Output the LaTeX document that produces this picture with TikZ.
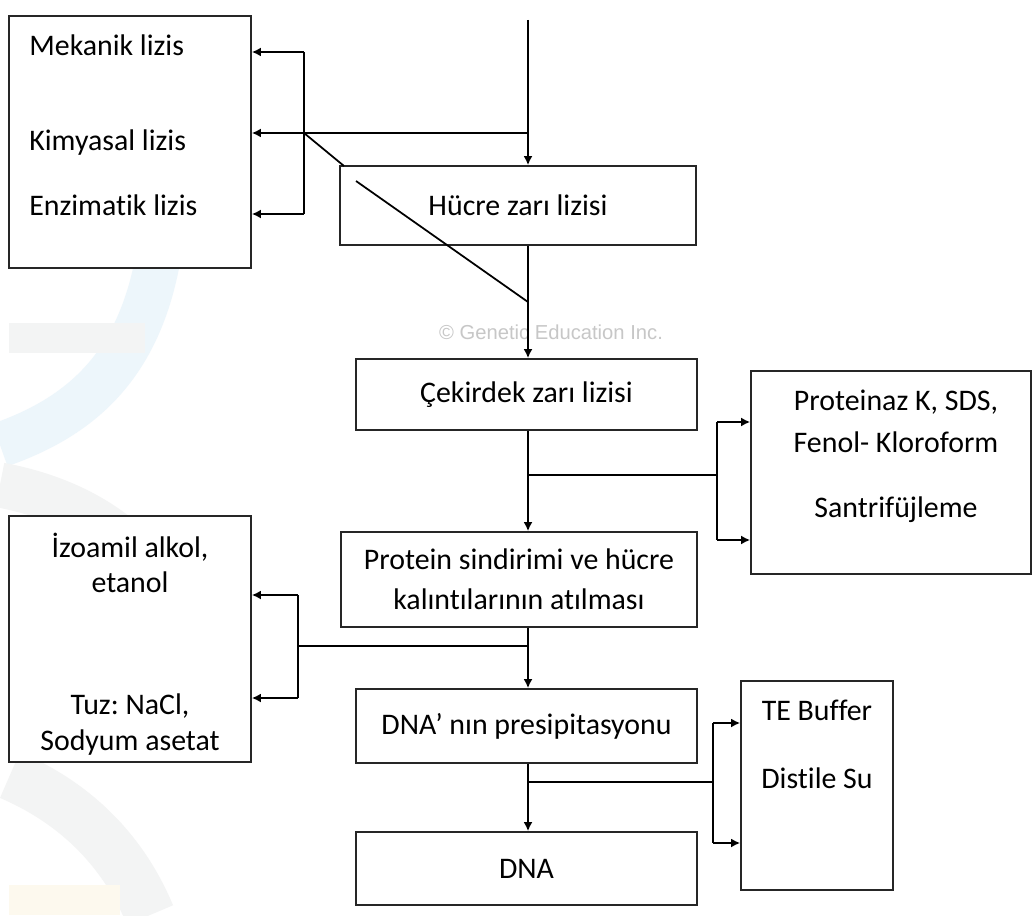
\documentclass[tikz,border=0pt]{standalone}
\usepackage{fontspec}
\setmainfont{Carlito}[Ligatures=NoCommon]
\newfontfamily\wmfont{Liberation Sans}
\frenchspacing
\usetikzlibrary{arrows.meta}
\definecolor{logoblue}{RGB}{237,246,251}
\definecolor{logogrey}{RGB}{243,244,244}
\definecolor{logoyellow}{RGB}{253,249,238}

\begin{document}
\begin{tikzpicture}[x=0.02cm,y=-0.02cm,>={Latex[length=1.8mm,width=1.8mm]},
  box/.style={draw=black!85,line width=1pt,fill=white,inner sep=2pt,align=center,font=\fontsize{17}{20.4}\selectfont},
  txt/.style={inner sep=0pt,align=center,font=\fontsize{17}{20.4}\selectfont},
  flow/.style={line width=1.3pt,->},
  link/.style={line width=1.3pt}]
\useasboundingbox (0,0) rectangle (1033,915);
\fill[white] (0,0) rectangle (1033,915);
% faint logo behind
\draw[logoblue,line width=0.9cm] (165,150) .. controls (170,340) and (100,410) .. (0,445);
\fill[logogrey] (9,323) rectangle (145,353);
\draw[logogrey,line width=0.9cm] (0,485) .. controls (80,500) and (140,540) .. (170,600);
\draw[logogrey,line width=1cm] (10,775) .. controls (80,805) and (125,855) .. (150,915);
\fill[logoyellow] (9,885) rectangle (120,915);

% boxes
\node[box,minimum width=4.84cm,minimum height=5.04cm] (lys) at (130,142) {};
\node[txt,anchor=west] (mek) at (29,45) {Mekanik lizis};
\node[txt,anchor=west] (kim) at (29,143) {Kimyasal lizis};
\node[txt,anchor=west] (enzi) at (29,205) {Enzimatik lizis};

\node[box,minimum width=7.12cm,minimum height=1.58cm] (hucre) at (518,205.5) {Hücre zarı lizisi};
\node[box,minimum width=6.82cm,minimum height=1.42cm] (cek) at (526.5,394.5) {Çekirdek zarı lizisi};

\node[box,minimum width=5.6cm,minimum height=4.06cm] (enzbox) at (891,472.5) {};
\node[txt] (prk) at (896,402) {Proteinaz K, SDS,};
\node[txt] (fen) at (896,442) {Fenol- Kloroform};
\node[txt] (san) at (896,510) {Santrifüjleme};

\node[box,minimum width=7.12cm,minimum height=1.9cm] (sind) at (519,579.5) {Protein sindirimi ve hücre\\[2.5pt]kalıntılarının atılması};

\node[box,minimum width=4.84cm,minimum height=4.92cm] (izo) at (130,639) {};
\node[txt] (izoa) at (130,547) {İzoamil alkol,};
\node[txt] (etan) at (130,582) {etanol};
\node[txt] (tuz) at (130,706) {Tuz: NaCl,};
\node[txt] (sody) at (130,743) {Sodyum asetat};

\node[box,minimum width=6.82cm,minimum height=1.48cm] (pres) at (526.5,726) {DNA’ nın presipitasyonu};

\node[box,minimum width=3.04cm,minimum height=4.18cm] (tebox) at (817,785.5) {};
\node[txt] (teb) at (817,710) {TE Buffer};
\node[txt] (dsu) at (817,778) {Distile Su};

\node[box,minimum width=6.82cm,minimum height=1.46cm] (dna) at (526.5,868.5) {DNA};

\node[font=\wmfont\fontsize{11.5}{13}\selectfont,text=black!22] (wm) at (551,332) {© Genetic Education Inc.};

% main line and branches
\coordinate (top) at (528,20);
\coordinate (lb) at (304,133);
\coordinate (lb1) at (304,52);
\coordinate (lb2) at (304,214);
\draw[flow] (top) -- (top |- hucre.north);
\draw[link] (top |- lb) -- (lb);
\draw[flow] (lb) -- (lb -| lys.east);
\draw[link] (lb1) -- (lb2);
\draw[flow] (lb1) -- (lb1 -| lys.east);
\draw[flow] (lb2) -- (lb2 -| lys.east);
% slanted stroke
\coordinate (d0) at (344,166);
\coordinate (d1) at (356,181);
\coordinate (d2) at (528,302);
\draw[line width=1pt] (lb) -- (d0);
\draw[line width=1pt] (d1) -- (d2);

\draw[flow] (top |- hucre.south) -- (top |- cek.north);
\draw[flow] (top |- cek.south) -- (top |- sind.north);
\coordinate (rb) at (717,475);
\coordinate (rb1) at (717,422);
\coordinate (rb2) at (717,540);
\draw[link] (top |- rb) -- (rb);
\draw[link] (rb1) -- (rb2);
\draw[flow] (rb1) -- (rb1 -| enzbox.west);
\draw[flow] (rb2) -- (rb2 -| enzbox.west);

\draw[flow] (top |- sind.south) -- (top |- pres.north);
\coordinate (ib) at (298,646);
\coordinate (ib1) at (298,595);
\coordinate (ib2) at (298,698);
\draw[link] (top |- ib) -- (ib);
\draw[link] (ib1) -- (ib2);
\draw[flow] (ib1) -- (ib1 -| izo.east);
\draw[flow] (ib2) -- (ib2 -| izo.east);

\draw[flow] (top |- pres.south) -- (top |- dna.north);
\coordinate (tb) at (713,782);
\coordinate (tb1) at (713,723);
\coordinate (tb2) at (713,843);
\draw[link] (top |- tb) -- (tb);
\draw[link] (tb1) -- (tb2);
\draw[flow] (tb1) -- (tb1 -| tebox.west);
\draw[flow] (tb2) -- (tb2 -| tebox.west);
\end{tikzpicture}
\end{document}
